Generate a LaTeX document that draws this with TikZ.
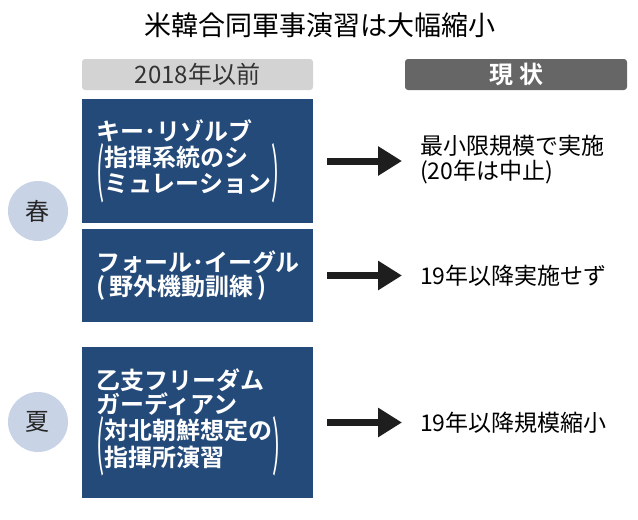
\documentclass[tikz,border=0pt]{standalone}
\usepackage{fontspec}
\usepackage{graphicx}
\setmainfont{Noto Sans CJK JP}[BoldFont={Noto Sans CJK JP Bold}]
\usetikzlibrary{arrows.meta, positioning}
\definecolor{kenavy}{RGB}{36,74,122}
\definecolor{seasonblue}{RGB}{200,211,230}
\definecolor{headgray}{RGB}{211,211,211}
\definecolor{headdark}{RGB}{102,102,102}
\definecolor{arrowblack}{RGB}{30,30,30}
% tall parentheses round two lines
\newcommand{\tallparen}[1]{\vcenter{\hbox{\scalebox{1}[2.45]{\mdseries #1}}}}
\newcommand{\kakko}[1]{$\tallparen{(}\vcenter{\hbox{\begin{tabular}{@{}l@{}}#1\end{tabular}}}\tallparen{)}$}

\begin{document}
\begin{tikzpicture}[x=1pt, y=-1pt,
    drillbox/.style={fill=kenavy, text=white, font=\bfseries\fontsize{24}{24}\selectfont,
        align=left, text width=203pt, inner xsep=14pt, inner ysep=0pt},
    season/.style={circle, fill=seasonblue, minimum size=60pt, inner sep=0pt,
        font=\fontsize{24}{24}\selectfont, text=black!85},
    header/.style={minimum width=222pt, minimum height=31pt, inner sep=0pt,
        rounded corners=3pt, font=\fontsize{24}{24}\selectfont},
    result/.style={anchor=west, inner sep=0pt, align=left,
        font=\fontsize{23}{25}\selectfont, text=black},
    fat arrow/.style={line width=7pt, draw=arrowblack, -{Triangle[length=24pt, width=28pt]}}]
    \useasboundingbox (0,0) rectangle (638,520);

    % Titolo
    \node (title) at (320,25) {\fontsize{27}{27}\selectfont 米韓合同軍事演習は大幅縮小};

    % Intestazioni
    \node[header, fill=headgray, text=black!80, minimum width=231pt] (past) at (197.5,74.5) {2018年以前};
    \node[header, fill=headdark, text=white] (now) at (516,74.5) {\bfseries 現\hspace{6pt}状};

    % Esercitazioni
    \node[drillbox, minimum height=124pt] (resolve) at (197.5,161)
        {キー･リゾルブ\\\kakko{指揮系統のシ\\ミュレーション}};
    \node[drillbox, minimum height=93pt] (eagle) at (197.5,275.5)
        {フォール･イーグル\\(\,野外機動訓練\,)};
    \node[drillbox, minimum height=151pt] (ulchi) at (197.5,422.5)
        {乙支フリーダム\\ガーディアン\\\kakko{対北朝鮮想定の\\指揮所演習}};

    % Stagioni
    \node[season] (spring) at (38,211) {春};
    \node[season] (summer) at (38,422) {夏};

    % Stato attuale
    \node[result] (res1) at (420,160) {最小限規模で実施\\(20年は中止)};
    \node[result] (res2) at (420,275.5) {19年以降実施せず};
    \node[result] (res3) at (420,422.5) {19年以降規模縮小};

    % Frecce
    \draw[fat arrow] ([xshift=14pt]resolve.east) -- ([xshift=-18pt]resolve.east -| res1.west);
    \draw[fat arrow] ([xshift=14pt]eagle.east) -- ([xshift=-18pt]res2.west);
    \draw[fat arrow] ([xshift=14pt]ulchi.east) -- ([xshift=-18pt]res3.west);
\end{tikzpicture}
\end{document}
